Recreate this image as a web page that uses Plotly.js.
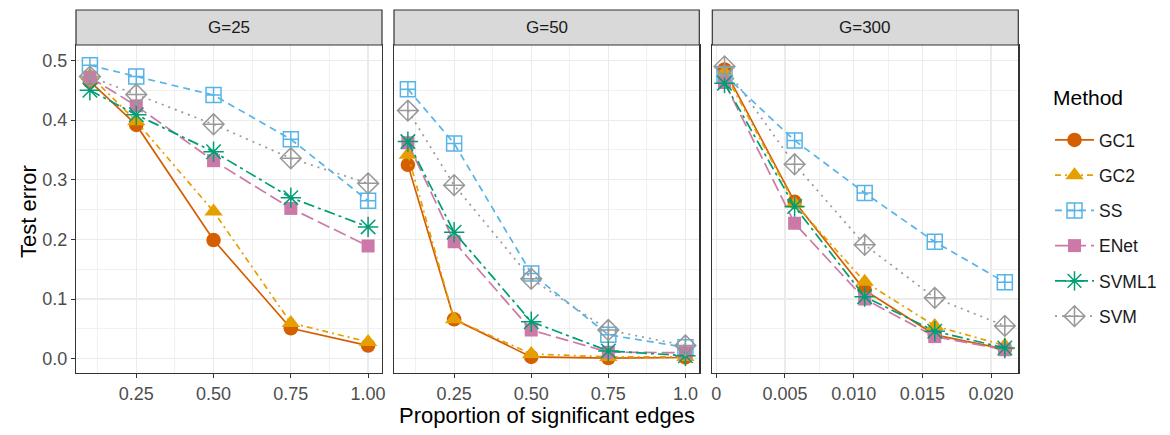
<!DOCTYPE html>
<html>
<head>
<meta charset="utf-8">
<script src="https://cdn.plot.ly/plotly-3.0.1.min.js"></script>
<style>html,body{margin:0;padding:0;background:#fff;}#chart{width:1170px;height:435px;}</style>
</head>
<body>
<div id="chart"></div>
<script>
// ---------------- data ----------------
const methods = ['GC1', 'GC2', 'SS', 'ENet', 'SVML1', 'SVM'];
const panels = ['G=25', 'G=50', 'G=300'];

const x25 = [0.1, 0.25, 0.5, 0.75, 1.0];
const x50 = [0.1, 0.25, 0.5, 0.75, 1.0];
const x300 = [0.0006, 0.0057, 0.0108, 0.0159, 0.0210];

const g25_GC1 = [0.465, 0.392, 0.199, 0.051, 0.022];
const g25_GC2 = [0.475, 0.398, 0.247, 0.060, 0.028];
const g25_SS = [0.492, 0.473, 0.442, 0.368, 0.265];
const g25_ENet = [0.472, 0.424, 0.332, 0.252, 0.189];
const g25_SVML1 = [0.450, 0.409, 0.347, 0.270, 0.221];
const g25_SVM = [0.473, 0.443, 0.393, 0.336, 0.294];

const g50_GC1 = [0.325, 0.066, 0.003, 0.001, 0.002];
const g50_GC2 = [0.342, 0.066, 0.008, 0.003, 0.003];
const g50_SS = [0.452, 0.361, 0.143, 0.040, 0.019];
const g50_ENet = [0.362, 0.196, 0.048, 0.011, 0.010];
const g50_SVML1 = [0.364, 0.212, 0.062, 0.013, 0.005];
const g50_SVM = [0.416, 0.291, 0.134, 0.048, 0.022];

const g300_GC1 = [0.485, 0.263, 0.115, 0.040, 0.016];
const g300_GC2 = [0.480, 0.260, 0.129, 0.055, 0.022];
const g300_SS = [0.476, 0.366, 0.278, 0.196, 0.128];
const g300_ENet = [0.463, 0.227, 0.100, 0.037, 0.015];
const g300_SVML1 = [0.462, 0.255, 0.104, 0.046, 0.018];
const g300_SVM = [0.490, 0.326, 0.191, 0.102, 0.055];

const xTicks25 = [0.25, 0.5, 0.75, 1.0];
const xTickText25 = ['0.25', '0.50', '0.75', '1.00'];
const xTicks50 = [0.25, 0.5, 0.75, 1.0];
const xTickText50 = ['0.25', '0.50', '0.75', '1.0'];
const xTicks300 = [0, 0.005, 0.010, 0.015, 0.020];
const xTickText300 = ['0', '0.005', '0.010', '0.015', '0.020'];
const yTicks = [0, 0.1, 0.2, 0.3, 0.4, 0.5];
const yTickText = ['0.0', '0.1', '0.2', '0.3', '0.4', '0.5'];

// ---------------- styles ----------------
const FONT = 'Liberation Sans, Arial, sans-serif';
const colors = {GC1:'#D55E00', GC2:'#E69F00', SS:'#56B4E9', ENet:'#CC79A7', SVML1:'#009E73', SVM:'#999999'};
const symbols = {GC1:'circle', GC2:'triangle-up', SS:'square-cross-open', ENet:'square', SVML1:'asterisk-open', SVM:'diamond-cross-open'};
const sizes = {GC1:14.5, GC2:16, SS:15, ENet:13, SVML1:17, SVM:16};
const dashes = {GC1:'solid', GC2:'6px,4px,2px,4px', SS:'7px,5px', ENet:'13px,5px', SVML1:'11px,4px,3px,4px', SVM:'2px,5px'};

const seriesData = {
  'G=25': {x:x25, GC1:g25_GC1, GC2:g25_GC2, SS:g25_SS, ENet:g25_ENet, SVML1:g25_SVML1, SVM:g25_SVM},
  'G=50': {x:x50, GC1:g50_GC1, GC2:g50_GC2, SS:g50_SS, ENet:g50_ENet, SVML1:g50_SVML1, SVM:g50_SVM},
  'G=300': {x:x300, GC1:g300_GC1, GC2:g300_GC2, SS:g300_SS, ENet:g300_ENet, SVML1:g300_SVML1, SVM:g300_SVM}
};

const W = 1170, H = 435;
const px = v => v / W, py = v => 1 - v / H;
const xDom = [[76, 382], [394, 699.3], [712.3, 1018.3]];
const plotTop = 45, plotBot = 373, stripTop = 10;

const traces = [];
panels.forEach((p, i) => {
  const ax = i === 0 ? '' : String(i + 1);
  methods.forEach(m => {
    const open = symbols[m].indexOf('open') >= 0;
    traces.push({
      type: 'scatter', mode: 'lines+markers',
      x: seriesData[p].x, y: seriesData[p][m],
      xaxis: 'x' + ax, yaxis: 'y' + ax,
      name: m, legendgroup: m, showlegend: i === 0,
      line: {color: colors[m], width: 1.7, dash: dashes[m]},
      marker: {symbol: symbols[m], size: sizes[m], color: colors[m],
               line: {color: colors[m], width: open ? 1.5 : 0}},
      hoverinfo: 'x+y+name'
    });
  });
});

const tickFont = {family: FONT, size: 18, color: '#4D4D4D'};
const gridMajor = '#EBEBEB';

function xAxis(i, range, tv, tt, minorVals) {
  return {
    domain: [px(xDom[i][0]), px(xDom[i][1])],
    anchor: i === 0 ? 'y' : 'y' + (i + 1),
    range: range, tickmode: 'array', tickvals: tv, ticktext: tt,
    showgrid: true, gridcolor: gridMajor, gridwidth: 1.2,
    minor: {tickmode: 'array', tickvals: minorVals, showgrid: true, gridcolor: gridMajor, gridwidth: 0.7, ticks: ''},
    zeroline: false, showline: true, mirror: true, linecolor: '#333333', linewidth: 1.2,
    ticks: 'outside', ticklen: 4, tickcolor: '#333333', tickwidth: 1,
    tickfont: tickFont, fixedrange: true
  };
}
function yAxis(i) {
  return {
    domain: [py(plotBot), py(plotTop)],
    anchor: i === 0 ? 'x' : 'x' + (i + 1),
    range: [-0.024, 0.526], tickmode: 'array', tickvals: yTicks, ticktext: yTickText,
    showticklabels: i === 0,
    showgrid: true, gridcolor: gridMajor, gridwidth: 1.2,
    minor: {tickmode: 'array', tickvals: [0.05, 0.15, 0.25, 0.35, 0.45], showgrid: true, gridcolor: gridMajor, gridwidth: 0.7, ticks: ''},
    zeroline: false, showline: true, mirror: true, linecolor: '#333333', linewidth: 1.2,
    ticks: i === 0 ? 'outside' : '', ticklen: 4, tickcolor: '#333333', tickwidth: 1,
    tickfont: tickFont, fixedrange: true
  };
}

const shapes = [], annotations = [];
panels.forEach((p, i) => {
  shapes.push({type: 'rect', xref: 'paper', yref: 'paper',
    x0: px(xDom[i][0]), x1: px(xDom[i][1]), y0: py(plotTop), y1: py(stripTop),
    fillcolor: '#D9D9D9', line: {color: '#333333', width: 1.2}});
  annotations.push({xref: 'paper', yref: 'paper', x: (px(xDom[i][0]) + px(xDom[i][1])) / 2,
    y: (py(plotTop) + py(stripTop)) / 2, text: p, showarrow: false, xanchor: 'center', yanchor: 'middle',
    font: {family: FONT, size: 17, color: '#1A1A1A'}});
});
annotations.push({xref: 'paper', yref: 'paper', x: px(547), y: py(415), text: 'Proportion of significant edges',
  showarrow: false, xanchor: 'center', yanchor: 'middle',
  font: {family: FONT, size: 22, color: '#000000'}});
annotations.push({xref: 'paper', yref: 'paper', x: px(29), y: py(212), text: 'Test error', textangle: -90,
  showarrow: false, xanchor: 'center', yanchor: 'middle',
  font: {family: FONT, size: 22, color: '#000000'}});
annotations.push({xref: 'paper', yref: 'paper', x: px(1051), y: py(98), text: 'Method',
  showarrow: false, xanchor: 'left', yanchor: 'middle',
  font: {family: FONT, size: 21, color: '#000000'}});

const layout = {
  width: W, height: H,
  margin: {l: 0, r: 0, t: 0, b: 0},
  paper_bgcolor: '#FFFFFF', plot_bgcolor: '#FFFFFF',
  showlegend: true,
  legend: {
    x: px(1050), y: py(122), xanchor: 'left', yanchor: 'top',
    font: {family: FONT, size: 17.5, color: '#1A1A1A'},
    traceorder: 'grouped', tracegroupgap: 9.5, itemwidth: 39,
    bgcolor: 'rgba(0,0,0,0)'
  },
  xaxis: xAxis(0, [0.055, 1.045], xTicks25, xTickText25, [0.125, 0.375, 0.625, 0.875]),
  xaxis2: xAxis(1, [0.055, 1.045], xTicks50, xTickText50, [0.125, 0.375, 0.625, 0.875]),
  xaxis3: xAxis(2, [-0.00029, 0.02198], xTicks300, xTickText300, [0.0025, 0.0075, 0.0125, 0.0175]),
  yaxis: yAxis(0), yaxis2: yAxis(1), yaxis3: yAxis(2),
  shapes: shapes, annotations: annotations,
  font: {family: FONT}
};

Plotly.newPlot('chart', traces, layout, {displayModeBar: false, staticPlot: true});
</script>
</body>
</html>
